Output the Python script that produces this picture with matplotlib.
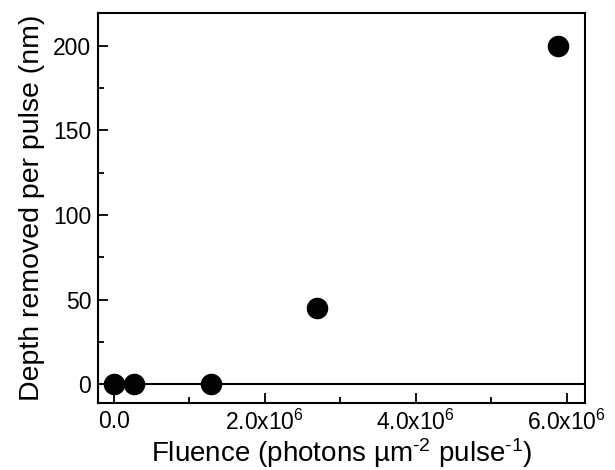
import matplotlib
matplotlib.use("Agg")
import matplotlib.pyplot as plt
from matplotlib.ticker import MultipleLocator, FixedLocator

plt.rcParams["font.family"] = ["Liberation Sans", "DejaVu Sans"]
plt.rcParams["mathtext.fontset"] = "custom"
plt.rcParams["mathtext.rm"] = "Liberation Sans"
plt.rcParams["mathtext.it"] = "Liberation Sans:italic"
plt.rcParams["mathtext.bf"] = "Liberation Sans:bold"

# data
fluence = [0.0, 0.27e6, 1.29e6, 2.69e6, 5.88e6]
depth = [0, 0, 0, 45, 200]

x_ticks = [0, 2e6, 4e6, 6e6]
x_tick_labels = ["0.0", r"2.0x10$^{6}$", r"4.0x10$^{6}$", r"6.0x10$^{6}$"]

fig = plt.figure(figsize=(6.15, 4.7), dpi=100)
# axes box in figure fractions (left 98, right 585, top 13, bottom 403 px)
ax = fig.add_axes([98.3 / 615, 1 - 403 / 470, (585 - 98.3) / 615, (403 - 13.3) / 470])

ax.axhline(0, color="black", linewidth=1.5, zorder=2)
ax.plot(fluence, depth, "o", color="black", markersize=14.5, zorder=3)

ax.set_xlim(-0.208e6, 6.24e6)
ax.set_ylim(-11.2, 219.3)

ax.xaxis.set_major_locator(FixedLocator(x_ticks))
ax.set_xticklabels(x_tick_labels)
ax.xaxis.set_minor_locator(MultipleLocator(1e6))
ax.yaxis.set_major_locator(MultipleLocator(50))
ax.yaxis.set_minor_locator(MultipleLocator(25))

ax.tick_params(which="both", direction="in", width=1.3, labelsize=16.5, top=False, right=False)
ax.tick_params(which="major", length=7, pad=5)
ax.tick_params(which="minor", length=4)
for s in ax.spines.values():
    s.set_linewidth(1.5)

ax.set_xlabel(r"Fluence (photons µm$^{\text{-2}}$ pulse$^{\text{-1}}$)", fontsize=20, labelpad=1)
ax.set_ylabel("Depth removed per pulse (nm)", fontsize=20.5, labelpad=6)

fig.savefig("out.png", dpi=100)
